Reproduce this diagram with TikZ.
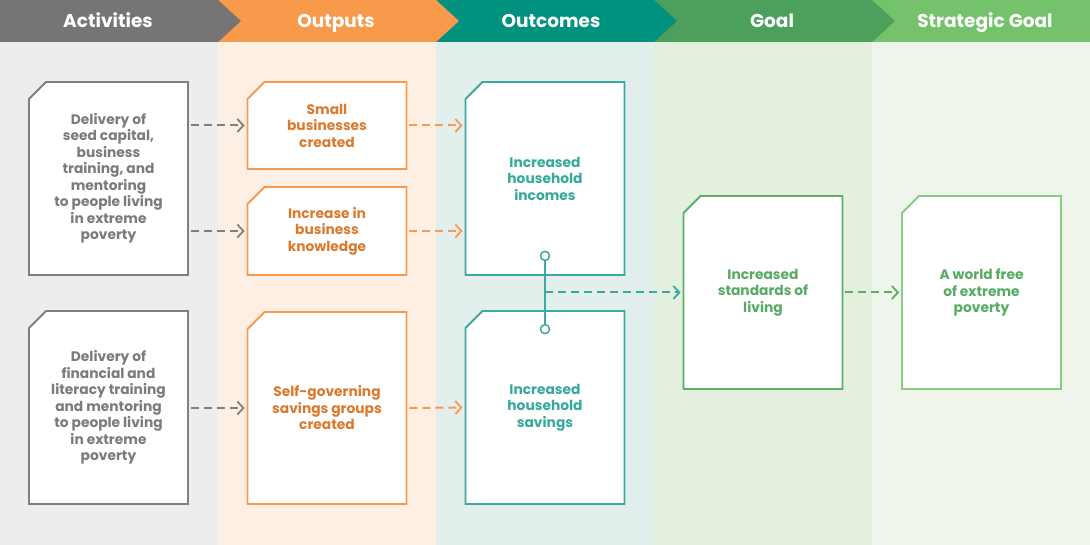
\documentclass[tikz,border=0pt]{standalone}
\usepackage{fontspec}
\setmainfont{Poppins}
\usetikzlibrary{arrows.meta,positioning,shapes.misc,calc}

\definecolor{grayhead}{HTML}{767474}
\definecolor{graybg}{HTML}{EDEDED}
\definecolor{grayline}{HTML}{7F7F7F}
\definecolor{graytext}{HTML}{7B7B7B}
\definecolor{orangehead}{HTML}{F89A4B}
\definecolor{orangebg}{HTML}{FEEFE4}
\definecolor{orangeline}{HTML}{F79A4D}
\definecolor{orangetext}{HTML}{D97A2F}
\definecolor{tealhead}{HTML}{00917F}
\definecolor{tealbg}{HTML}{E3EFEC}
\definecolor{tealline}{HTML}{3BAA9E}
\definecolor{tealtext}{HTML}{36A99B}
\definecolor{goalhead}{HTML}{4CA05B}
\definecolor{goalbg}{HTML}{E2F0DD}
\definecolor{goalline}{HTML}{5BAD69}
\definecolor{goaltext}{HTML}{57AB63}
\definecolor{strathead}{HTML}{74C26B}
\definecolor{stratbg}{HTML}{EEF6EB}
\definecolor{stratline}{HTML}{88CD82}

\begin{document}
\begin{tikzpicture}[x=1pt,y=-1pt,
      txt/.style={font=\bfseries\fontsize{13.8}{16.5}\selectfont, align=center},
      docbox/.style={draw=#1, fill=white, line width=1.8pt, chamfered rectangle,
         chamfered rectangle corners=north west, chamfered rectangle xsep=8.5pt,
         chamfered rectangle ysep=8.5pt, inner sep=0pt, minimum width=159pt, txt},
      link/.style={draw=#1, line width=2pt, dash pattern=on 8pt off 5pt,
         -{Straight Barb[length=6pt,width=13pt,line width=1.8pt]}, shorten >=2pt, shorten <=2pt},
      band/.style={font=\bfseries\fontsize{18.5}{20}\selectfont, text=white, anchor=base},
      dot/.style={circle, draw=tealline, fill=white, line width=1.5pt, minimum size=9pt, inner sep=0pt}]
      \useasboundingbox (0,0) rectangle (1090,545);
      % column backgrounds
      \foreach \x/\c in {0/graybg,218/orangebg,436/tealbg,654/goalbg,872/stratbg}
         \fill[\c] (\x,42) rectangle ++(218,503);
      % header chevrons, right to left so each tip lies on top
      \fill[strathead] (872,0) rectangle (1090,42);
      \foreach \x/\c in {654/goalhead,436/tealhead,218/orangehead,0/grayhead}
         \fill[\c] (\x,0) -- ++(218,0) -- ++(23,21) -- ++(-23,21) -- ++(-218,0) -- cycle;
      \node[band] (hact) at (108,27.5) {Activities};
      \node[band] (hout) at (336,27.5) {Outputs};
      \node[band] (hoc) at (551,27.5) {Outcomes};
      \node[band] (hgoal) at (772,27.5) {Goal};
      \node[band] (hstrat) at (985,27.5) {Strategic Goal};
      % activities
      \node[docbox=grayline, minimum height=193pt, text=graytext] (act1) at (108.5,178.5)
         {Delivery of\\seed capital,\\business\\training, and\\mentoring\\to people living\\in extreme\\poverty};
      \node[docbox=grayline, minimum height=193pt, text=graytext] (act2) at (108.5,407.5)
         {Delivery of\\financial and\\literacy training\\and mentoring\\to people living\\in extreme\\poverty};
      % outputs
      \node[docbox=orangeline, minimum height=87pt, text=orangetext] (out1) at (327,125.5)
         {Small\\businesses\\created};
      \node[docbox=orangeline, minimum height=88pt, text=orangetext] (out2) at (327,231)
         {Increase in\\business\\knowledge};
      \node[docbox=orangeline, minimum height=192pt, text=orangetext] (out3) at (327,408)
         {Self-governing\\savings groups\\created};
      % outcomes
      \node[docbox=tealline, minimum height=193pt, text=tealtext] (inc) at (545,178.5)
         {Increased\\household\\incomes};
      \node[docbox=tealline, minimum height=193pt, text=tealtext] (sav) at (545,407.5)
         {Increased\\household\\savings};
      % goals
      \node[docbox=goalline, minimum height=193pt, text=goaltext] (goal) at (763,292.5)
         {Increased\\standards of\\living};
      \node[docbox=stratline, minimum height=193pt, text=goaltext] (strat) at (981.5,292.5)
         {A world free\\of extreme\\poverty};
      % links
      \draw[link=grayline] (act1.east |- out1.west) -- (out1.west);
      \draw[link=grayline] (act1.east |- out2.west) -- (out2.west);
      \draw[link=grayline] (act2.east |- out3.west) -- (out3.west);
      \draw[link=orangeline] (out1.east) -- (out1.east -| inc.west);
      \draw[link=orangeline] (out2.east) -- (out2.east -| inc.west);
      \draw[link=orangeline] (out3.east) -- (sav.west);
      % joining the two outcomes
      \node[dot] (j1) at ([yshift=20pt]inc.south) {};
      \node[dot] (j2) at ([yshift=-19pt]sav.north) {};
      \draw[tealline, line width=1.8pt] (j1) -- (j2);
      \coordinate (jm) at ($(j1)!0.5!(j2)$);
      \draw[link=tealline, shorten <=0pt] (jm) -- (goal.west);
      \draw[link=goalline] (goal.east) -- (strat.west);
\end{tikzpicture}
\end{document}
